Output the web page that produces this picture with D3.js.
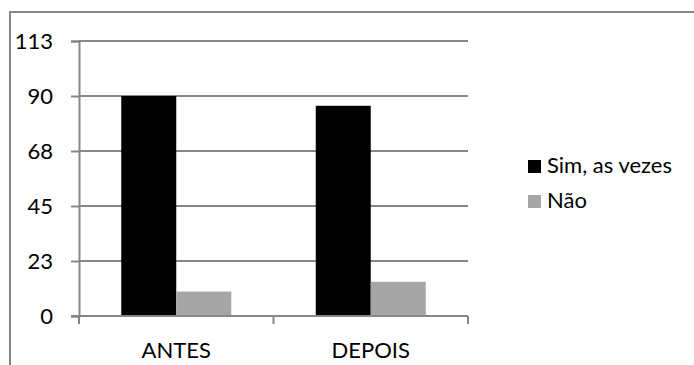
<!DOCTYPE html>
<html>
<head>
<meta charset="utf-8">
<script src="https://cdn.jsdelivr.net/npm/d3@7"></script>
<style>
  html, body { margin: 0; padding: 0; background: #fff; }
  svg { display: block; }
  text { font-family: Lato, "Open Sans", sans-serif; fill: #000; }
</style>
</head>
<body>
<svg id="chart" width="694" height="365"></svg>
<script>
// Categories, series and axis ticks
const categories = ["ANTES", "DEPOIS"];
const seriesNames = ["Sim, as vezes", "Não"];
const simValues = [90, 86];
const naoValues = [10, 14];
const tickValues = [0, 22.5, 45, 67.5, 90, 112.5];
const tickLabels = ["0", "23", "45", "68", "90", "113"];

const colors = ["#000000", "#a6a6a6"];
const axisColor = "#868686";

const svg = d3.select("#chart");
const W = 694, H = 365;
const plot = { left: 79, right: 468, top: 41, bottom: 316 };

// Outer chart frame (runs past the right and bottom edges)
svg.append("rect")
  .attr("x", 10).attr("y", 12)
  .attr("width", 720).attr("height", 420)
  .attr("fill", "none")
  .attr("stroke", axisColor)
  .attr("stroke-width", 2);

const x0 = d3.scaleBand().domain(categories).range([plot.left, plot.right]).paddingInner(0).paddingOuter(0);
const y = d3.scaleLinear().domain([0, 112.5]).range([plot.bottom, plot.top]);

// Horizontal gridlines with left tick marks
const yAxis = d3.axisLeft(y)
  .tickValues(tickValues)
  .tickFormat((d, i) => tickLabels[i])
  .tickSize(8)
  .tickPadding(18);
const gy = svg.append("g").attr("transform", `translate(${plot.left},0)`).call(yAxis);
gy.select(".domain").attr("stroke", axisColor).attr("stroke-width", 2);
gy.selectAll(".tick line").attr("stroke", axisColor).attr("stroke-width", 2);
gy.selectAll(".tick text").attr("font-size", 22).attr("font-family", "Lato, 'Open Sans', sans-serif").attr("fill", "#000");

svg.append("g").selectAll("line.grid")
  .data(tickValues.filter(v => v > 0))
  .join("line")
  .attr("x1", plot.left).attr("x2", plot.right)
  .attr("y1", d => y(d)).attr("y2", d => y(d))
  .attr("stroke", axisColor).attr("stroke-width", 2);

// Bars
const barW = 55;
const series = [simValues, naoValues];
categories.forEach((c, ci) => {
  const cx = x0(c) + x0.bandwidth() / 2;
  series.forEach((vals, si) => {
    const v = vals[ci];
    svg.append("rect")
      .attr("x", cx - barW + si * barW)
      .attr("y", y(v))
      .attr("width", barW)
      .attr("height", y(0) - y(v))
      .attr("fill", colors[si]);
  });
});

// Category axis with tick marks at band boundaries
const xAxisG = svg.append("g");
xAxisG.append("line")
  .attr("x1", plot.left - 8).attr("x2", plot.right)
  .attr("y1", y(0)).attr("y2", y(0))
  .attr("stroke", axisColor).attr("stroke-width", 2);
const bounds = [plot.left, x0(categories[1]), plot.right];
xAxisG.selectAll("line.tk").data(bounds).join("line")
  .attr("x1", d => d).attr("x2", d => d)
  .attr("y1", y(0)).attr("y2", y(0) + 8)
  .attr("stroke", axisColor).attr("stroke-width", 2);
xAxisG.selectAll("text").data(categories).join("text")
  .attr("x", d => x0(d) + x0.bandwidth() / 2)
  .attr("y", 358)
  .attr("text-anchor", "middle")
  .attr("font-size", 22)
  .text(d => d);

// Legend
const legend = svg.append("g").attr("transform", "translate(528,160)");
seriesNames.forEach((name, i) => {
  const g = legend.append("g").attr("transform", `translate(0,${i * 35})`);
  g.append("rect").attr("width", 13).attr("height", 13).attr("fill", colors[i]);
  g.append("text").attr("x", 19).attr("y", 13).attr("font-size", 22).text(name);
});
</script>
</body>
</html>
